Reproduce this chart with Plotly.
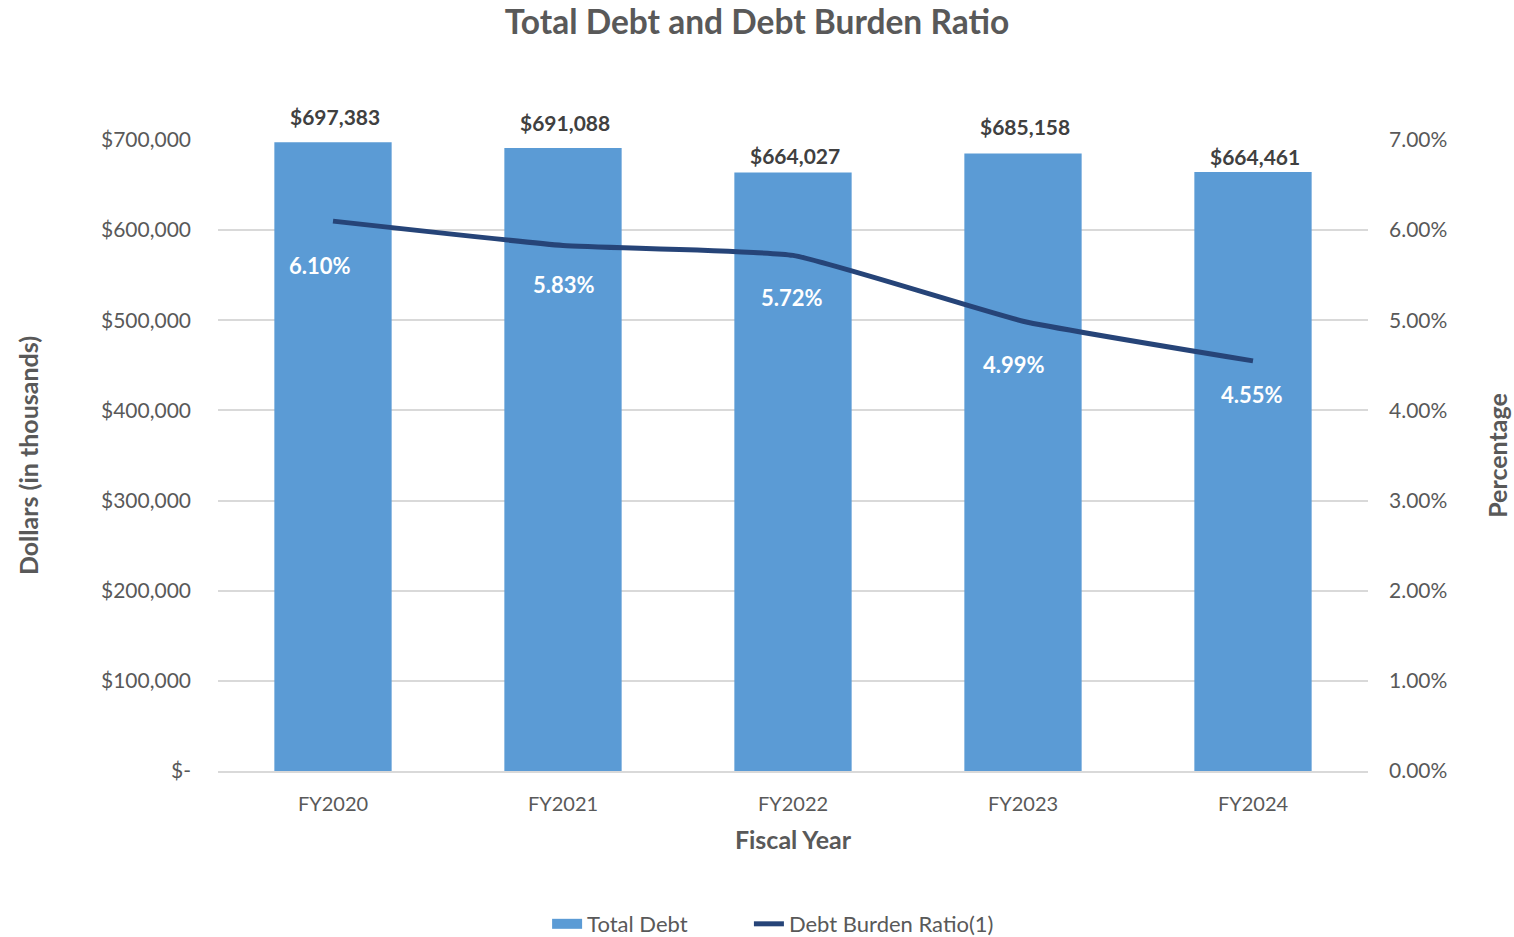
import plotly.graph_objects as go

years = ["FY2020", "FY2021", "FY2022", "FY2023", "FY2024"]
total_debt = [697383, 691088, 664027, 685158, 664461]
burden_ratio = [0.0610, 0.0583, 0.0572, 0.0499, 0.0455]
y_ticks = [0, 100000, 200000, 300000, 400000, 500000, 600000, 700000]
y_tick_labels = ["$-", "$100,000", "$200,000", "$300,000", "$400,000", "$500,000", "$600,000", "$700,000"]
y2_ticks = [0, 0.01, 0.02, 0.03, 0.04, 0.05, 0.06, 0.07]
y2_tick_labels = ["0.00%", "1.00%", "2.00%", "3.00%", "4.00%", "5.00%", "6.00%", "7.00%"]

# label placement offsets (pixels), styling only
debt_label_dy = [26, 26, 17, 27, 16]
ratio_label_dx = [-13, 1, -1, -9, -1]
ratio_label_dy = [-44, -39, -42, -43, -34]

FONT = "Lato"
GRAY = "#595959"
BAR = "#5B9BD5"
LINE = "#264478"
PAD = "\u00a0" * 10  # spacing between legend entries

fig = go.Figure()
fig.add_trace(go.Bar(
    x=years, y=total_debt, name="Total Debt", showlegend=False,
    marker=dict(color=BAR, line=dict(width=0)),
))
# legend entry for bars as a wide rectangle
fig.add_trace(go.Scatter(
    x=[None], y=[None], name="Total Debt" + PAD, mode="lines",
    line=dict(color=BAR, width=14),
))
fig.add_trace(go.Scatter(
    x=years, y=burden_ratio, name="Debt Burden Ratio(1)", yaxis="y2",
    mode="lines", line=dict(color=LINE, width=5, shape="spline", smoothing=0.4),
))
for x, v, dy in zip(years, total_debt, debt_label_dy):
    fig.add_annotation(x=x, y=v, yref="y", text=f"${v:,}", showarrow=False,
                       yshift=dy, xshift=2,
                       font=dict(family=FONT, size=21, color="#404040", weight="bold"))
for x, v, dx, dy in zip(years, burden_ratio, ratio_label_dx, ratio_label_dy):
    fig.add_annotation(x=x, y=v, yref="y2", text=f"{v*100:.2f}%", showarrow=False,
                       yshift=dy, xshift=dx,
                       font=dict(family=FONT, size=22, color="white", weight="bold"))

fig.update_layout(
    width=1514, height=937,
    paper_bgcolor="white", plot_bgcolor="white",
    margin=dict(l=218, r=146, t=140, b=166, autoexpand=False),
    title=dict(text="Total Debt and Debt Burden Ratio", x=0.5, xanchor="center", y=0.9765, yanchor="middle",
               font=dict(family=FONT, size=33.5, color=GRAY, weight="bold")),
    bargap=0.49,
    showlegend=True,
    legend=dict(orientation="h", x=0.4827, xanchor="center", y=-0.2425, yanchor="middle",
                font=dict(family=FONT, size=22, color=GRAY), traceorder="normal"),
    xaxis=dict(title=dict(text="Fiscal Year", font=dict(family=FONT, size=25, color=GRAY, weight="bold"), standoff=18),
               tickfont=dict(family=FONT, size=20, color=GRAY), showline=True, linecolor="#D9D9D9",
               linewidth=1.5, ticks="", showgrid=False, ticklabelstandoff=14),
    yaxis=dict(range=[0, 700000], tickvals=y_ticks, ticktext=y_tick_labels,
               tickfont=dict(family=FONT, size=21, color=GRAY), gridcolor="#D9D9D9", gridwidth=1.5,
               zeroline=False, ticks="", ticklabelstandoff=26,
               title=dict(text="Dollars (in thousands)", font=dict(family=FONT, size=25, color=GRAY, weight="bold"), standoff=55)),
    yaxis2=dict(range=[0, 0.07], tickvals=y2_ticks, ticktext=y2_tick_labels, overlaying="y", side="right",
                tickfont=dict(family=FONT, size=21, color=GRAY), showgrid=False, zeroline=False,
                ticklabelstandoff=20,
                title=dict(text="Percentage", font=dict(family=FONT, size=25, color=GRAY, weight="bold"), standoff=43)),
)

fig.write_html("out.html", config={"displayModeBar": False},
               post_script="document.body.style.margin='0px';")
